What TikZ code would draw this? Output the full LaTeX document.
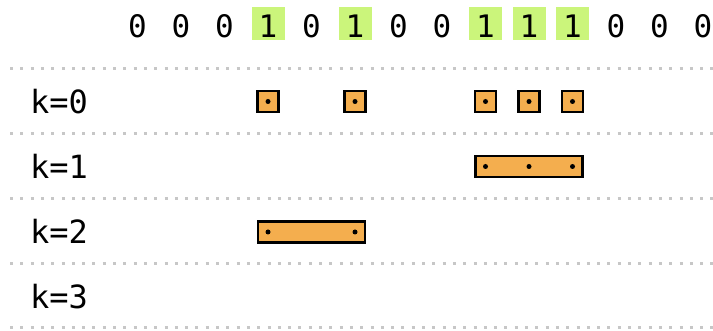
\documentclass[tikz,border=0pt]{standalone}
\usepackage{fontspec}
\setmonofont{DejaVu Sans Mono}
\usepackage{xcolor}
\definecolor{hlgreen}{HTML}{CBF57B}
\definecolor{segorange}{HTML}{F4AE4E}
\usetikzlibrary{positioning}

\begin{document}
\begin{tikzpicture}[x=1pt, y=-1pt,
  bit0/.style={font=\ttfamily\fontsize{31}{31}\selectfont, inner xsep=0.5pt, inner ysep=2pt, text height=29pt, text depth=0pt, anchor=base},
  bit1/.style={bit0, fill=hlgreen, minimum width=33pt},
  lvl/.style={font=\ttfamily\fontsize{32}{32}\selectfont, inner sep=0pt, anchor=base west},
  sep/.style={draw=black!22, line width=3pt, dash pattern=on 3pt off 7.3pt},
  cell/.style={draw, line width=2.8pt, fill=segorange, minimum width=21pt, minimum height=21pt, inner sep=0pt},
  bar/.style={cell, minimum width=107pt},
  pt/.style={circle, fill=black, inner sep=0pt, minimum size=5pt},
]
\useasboundingbox (0,0) rectangle (713,331);

% input bits
\foreach \b [count=\i from 0] in {0,0,0,1,0,1,0,0,1,1,1,0,0,0}
  \node[bit\b] (d\i) at (137.5+43.5*\i, 38) {\b};

% level rows
\foreach \y in {69,134,199,264,328}
  \draw[sep] (10,\y) -- (713,\y);
\coordinate (row0) at (0,101.5);
\coordinate (row1) at (0,166.5);
\coordinate (row2) at (0,232);
\coordinate (row3) at (0,297);
\node[lvl] (k0) at (30,113.5) {k=0};
\node[lvl] (k1) at (30,178.5) {k=1};
\node[lvl] (k2) at (30,244) {k=2};
\node[lvl] (k3) at (30,309) {k=3};

% k=0: single cells
\foreach \i in {3,5,8,9,10} {
  \node[cell] (c0-\i) at (d\i |- row0) {};
  \node[pt] (p0-\i) at (c0-\i.center) {};
}

% k=1
\node[bar] (c1) at (d9 |- row1) {};
\node[pt] (p1a) at (d8 |- row1) {};
\node[pt] (p1b) at (d9 |- row1) {};
\node[pt] (p1c) at (d10 |- row1) {};

% k=2
\node[bar] (c2) at (d4 |- row2) {};
\node[pt] (p2a) at (d3 |- row2) {};
\node[pt] (p2b) at (d5 |- row2) {};
\end{tikzpicture}
\end{document}
